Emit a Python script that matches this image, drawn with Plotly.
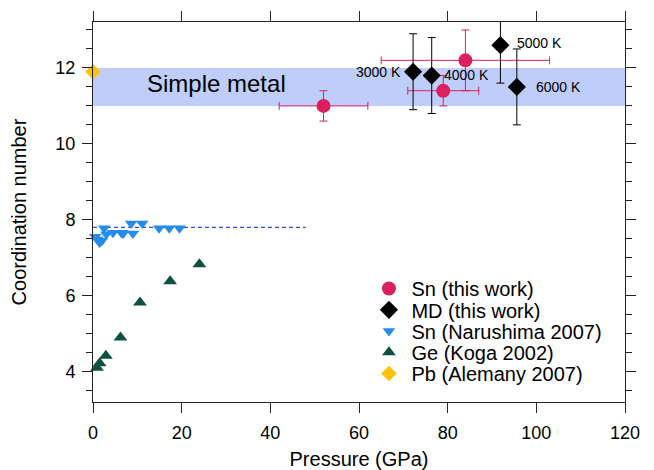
import plotly.graph_objects as go

# ---------------- data ----------------
# Sn (this work) - experiment
sn_p = [52.0, 79.0, 84.0]
sn_cn = [11.0, 11.4, 12.2]
sn_p_err = [10.0, 8.0, 19.0]
sn_cn_err = [0.4, 0.4, 0.8]

# MD (this work)
md_p = [72.2, 76.4, 91.9, 95.6]
md_cn = [11.9, 11.8, 12.6, 11.5]
md_cn_err = [1.0, 1.0, 1.0, 1.0]
md_labels = ["3000 K", "4000 K", "5000 K", "6000 K"]

# Sn (Narushima 2007)
nar_p = [0.5, 1.0, 1.5, 2.0, 2.5, 3.0, 4.5, 6.4, 6.8, 8.6, 9.0, 11.1, 14.9, 17.2, 19.5]
nar_cn = [7.55, 7.48, 7.40, 7.45, 7.78, 7.62, 7.66, 7.66, 7.64, 7.90, 7.64, 7.90, 7.78, 7.78, 7.78]

# Ge (Koga 2002)
ge_p = [0.9, 1.5, 2.9, 6.2, 10.6, 17.4, 24.0]
ge_cn = [4.10, 4.22, 4.42, 4.90, 5.82, 6.38, 6.83]

# Pb (Alemany 2007)
pb_p = [0.0]
pb_cn = [11.9]

# guide line and "simple metal" band
guide_p = [0.0, 48.0]
guide_cn = [7.8, 7.8]
band_cn = [11.0, 12.0]
band_label = "Simple metal"

x_ticks = [0, 20, 40, 60, 80, 100, 120]
y_ticks = [4, 6, 8, 10, 12]

# ---------------- styles ----------------
FONT = "Liberation Sans, Arial, Helvetica, sans-serif"
C_SN = "#dc1f5e"
C_NAR = "#268ceb"
C_GE = "#0d5040"
C_PB = "#ffc10a"
C_BAND = "#bfcdfa"
C_GUIDE = "#2d55d8"
AX = "#222222"

fig = go.Figure()

# band
fig.add_shape(type="rect", xref="paper", x0=0, x1=1, yref="y",
              y0=band_cn[0], y1=band_cn[1], fillcolor=C_BAND,
              line=dict(width=0), layer="below")

# guide dashed line
fig.add_trace(go.Scatter(x=guide_p, y=guide_cn, mode="lines",
                         line=dict(color=C_GUIDE, width=1.4, dash="4px,3px"),
                         showlegend=False, hoverinfo="skip"))

fig.add_trace(go.Scatter(
    x=sn_p, y=sn_cn, mode="markers", name="Sn (this work)", legend="legend",
    marker=dict(symbol="circle", size=14, color=C_SN),
    error_x=dict(type="data", array=sn_p_err, color=C_SN, thickness=1, width=4),
    error_y=dict(type="data", array=sn_cn_err, color=C_SN, thickness=1, width=4),
))

fig.add_trace(go.Scatter(
    x=md_p, y=md_cn, mode="markers", name="MD (this work)", legend="legend2",
    marker=dict(symbol="diamond", size=14, color="black"),
    error_y=dict(type="data", array=md_cn_err, color="black", thickness=1, width=4),
))

fig.add_trace(go.Scatter(
    x=nar_p, y=nar_cn, mode="markers", name="Sn (Narushima 2007)", legend="legend3",
    marker=dict(symbol="triangle-down", size=11, color=C_NAR),
    cliponaxis=False,
))

fig.add_trace(go.Scatter(
    x=ge_p, y=ge_cn, mode="markers", name="Ge (Koga 2002)", legend="legend4",
    marker=dict(symbol="triangle-up", size=12, color=C_GE),
    cliponaxis=False,
))

fig.add_trace(go.Scatter(
    x=pb_p, y=pb_cn, mode="markers", name="Pb (Alemany 2007)", legend="legend5",
    marker=dict(symbol="diamond", size=12, color=C_PB),
    cliponaxis=False,
))

# temperature labels next to MD points
shifts = [(-10, 0, "right"), (10, 1, "left"), (15, 2, "left"), (17, 0, "left")]
for px, cn, lab, (xs, ys, xa) in zip(md_p, md_cn, md_labels, shifts):
    fig.add_annotation(x=px, y=cn, text=lab, showarrow=False, xanchor=xa,
                       yanchor="middle", xshift=xs, yshift=ys,
                       font=dict(size=14, color="black", family=FONT))

fig.add_annotation(x=27.9, y=sum(band_cn) / 2 + 0.1, text=band_label, showarrow=False,
                   xanchor="center", yanchor="middle",
                   font=dict(size=24, color="black", family=FONT))

axis_common = dict(showline=True, linecolor=AX, linewidth=1, mirror="ticks",
                   ticks="outside", ticklen=10, tickwidth=1, tickcolor=AX,
                   showgrid=False, zeroline=False, automargin=False,
                   tickfont=dict(size=18, color="black", family=FONT))

fig.update_xaxes(range=[0, 120], tickvals=x_ticks, ticklabelstandoff=4,
                 title=dict(text="Pressure (GPa)", standoff=12,
                            font=dict(size=20, color="black", family=FONT)),
                 **axis_common)
fig.update_yaxes(range=[3.2, 13.21], tickvals=y_ticks, ticklabelstandoff=3,
                 minor=dict(dtick=0.5, tick0=0, ticks="outside", ticklen=6,
                            tickwidth=1, tickcolor=AX),
                 title=dict(text="Coordination number", standoff=28,
                            font=dict(size=20, color="black", family=FONT)),
                 **axis_common)

# one single-entry legend per series, stacked with tight row spacing
legend_rows_y = [0.2987, 0.2426, 0.1869, 0.1308, 0.0751]
legend_style = dict(x=0.514, xanchor="left", yanchor="middle",
                    bgcolor="rgba(0,0,0,0)", borderwidth=0, itemwidth=35,
                    font=dict(size=20, color="black", family=FONT))
legends = {}
for i, ly in enumerate(legend_rows_y):
    key = "legend" if i == 0 else f"legend{i + 1}"
    legends[key] = dict(y=ly, **legend_style)

fig.update_layout(
    width=646, height=462,
    margin=dict(l=85, r=29, t=14, b=68, autoexpand=False),
    paper_bgcolor="white", plot_bgcolor="white",
    font=dict(family=FONT, color="black"),
    showlegend=True,
    **legends,
)

fig.write_html("out.html")
